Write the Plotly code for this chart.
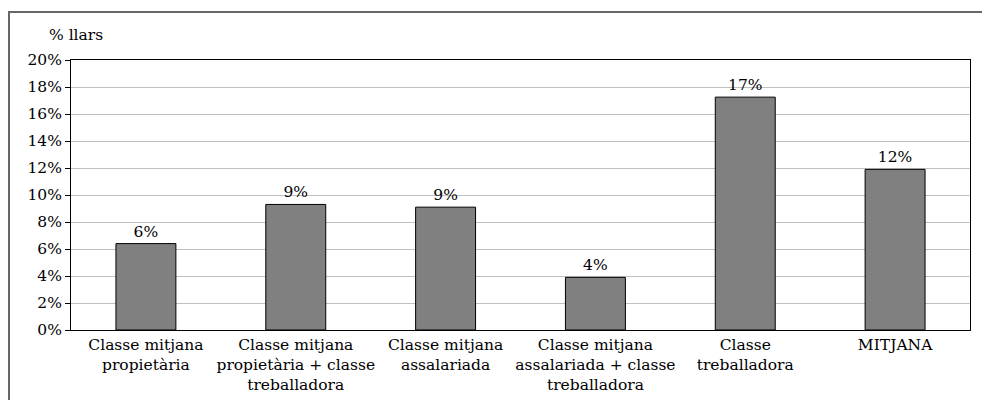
import plotly.graph_objects as go

categories = [
    "Classe mitjana<br>propietària",
    "Classe mitjana<br>propietària + classe<br>treballadora",
    "Classe mitjana<br>assalariada",
    "Classe mitjana<br>assalariada + classe<br>treballadora",
    "Classe<br>treballadora",
    "MITJANA",
]
values = [6.4, 9.3, 9.1, 3.9, 17.25, 11.9]
value_labels = ["6%", "9%", "9%", "4%", "17%", "12%"]
y_tickvals = [0, 2, 4, 6, 8, 10, 12, 14, 16, 18, 20]
y_ticktext = ["0%", "2%", "4%", "6%", "8%", "10%", "12%", "14%", "16%", "18%", "20%"]

FONT = "DejaVu Serif"
FS = 15.5

fig = go.Figure(
    go.Bar(
        x=categories,
        y=values,
        text=value_labels,
        textposition="outside",
        textfont=dict(family=FONT, size=FS, color="black"),
        marker=dict(color="#808080", line=dict(color="black", width=1)),
        width=0.4,
        cliponaxis=False,
    )
)

W, H = 982, 400
ml, mr, mt, mb = 71, 12, 60, 70
pw = W - ml - mr
ph = H - mt - mb

fig.update_layout(
    width=W,
    height=H,
    margin=dict(l=ml, r=mr, t=mt, b=mb, autoexpand=False),
    paper_bgcolor="white",
    plot_bgcolor="white",
    font=dict(family=FONT, size=FS, color="black"),
    showlegend=False,
    xaxis=dict(
        showline=True,
        linecolor="black",
        linewidth=1,
        mirror=True,
        ticks="",
        tickangle=0,
        automargin=False,
        tickfont=dict(family=FONT, size=FS, color="black"),
    ),
    yaxis=dict(
        range=[0, 20],
        tickvals=y_tickvals,
        ticktext=y_ticktext,
        showgrid=True,
        gridcolor="#c0c0c0",
        gridwidth=1,
        showline=True,
        linecolor="black",
        linewidth=1,
        mirror=True,
        ticks="outside",
        ticklen=5,
        tickcolor="black",
        zeroline=False,
        automargin=False,
        tickfont=dict(family=FONT, size=FS, color="black"),
    ),
    annotations=[
        dict(
            text="% llars",
            xref="paper",
            yref="paper",
            x=(47 - ml) / pw,
            y=(H - mb - 35) / ph,
            xanchor="left",
            yanchor="middle",
            showarrow=False,
            font=dict(family=FONT, size=FS, color="black"),
        )
    ],
    shapes=[
        dict(
            type="rect",
            xref="paper",
            yref="paper",
            x0=(9 - ml) / pw,
            x1=(W + 10 - ml) / pw,
            y0=(H - mb - (H + 10)) / ph,
            y1=(H - mb - 12) / ph,
            line=dict(color="#666666", width=2),
            fillcolor="rgba(0,0,0,0)",
            layer="below",
        )
    ],
)

fig.write_html(
    "out.html",
    config={"displayModeBar": False},
    post_script="document.body.style.margin='0';document.body.style.overflow='hidden';",
)
